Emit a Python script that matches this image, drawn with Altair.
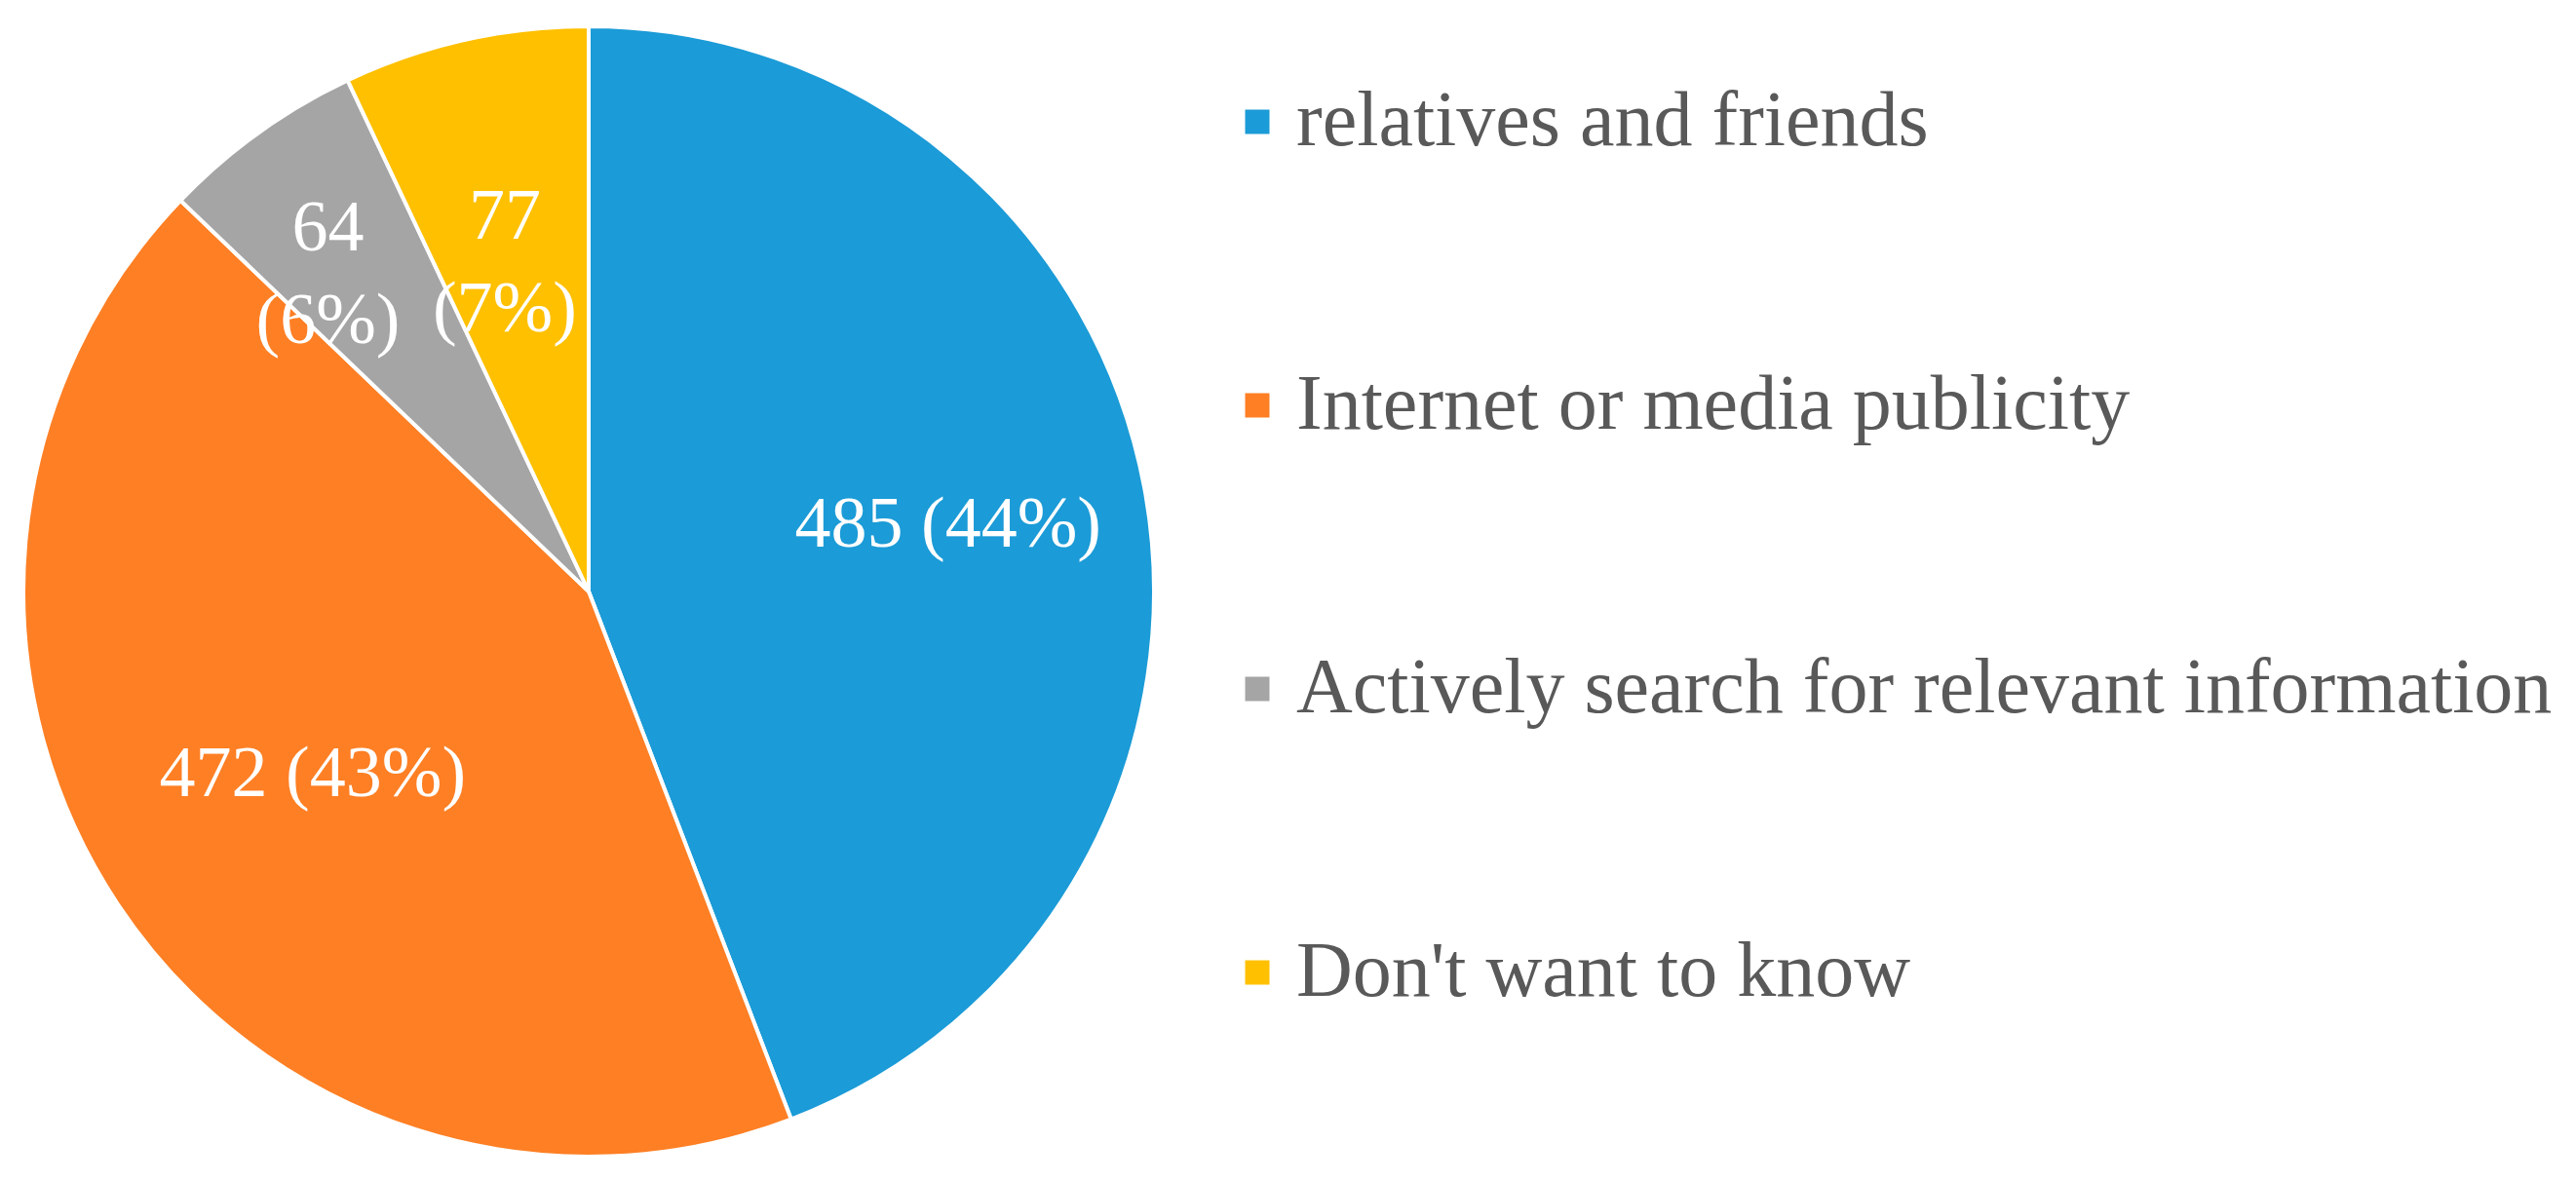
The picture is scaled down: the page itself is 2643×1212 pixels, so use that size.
import altair as alt
import pandas as pd

categories = ["relatives and friends", "Internet or media publicity",
              "Actively search for relevant information", "Don't want to know"]
counts = [485, 472, 64, 77]
colors = ["#1B9BD7", "#FE7F24", "#A5A5A5", "#FFC000"]

total = sum(counts)
labels = []
for c in counts:
    p = round(100 * c / total)
    labels.append(f"{c} ({p}%)" if c > 200 else f"{c}\n({p}%)")

df = pd.DataFrame({"category": categories, "count": counts,
                   "idx": list(range(len(categories))), "label": labels})

CX, CY, R = 596, 599, 580
FONT = "Liberation Serif"
TWO_PI = 6.283185307179586

color = alt.Color("category:N", sort=categories,
                  scale=alt.Scale(domain=categories, range=colors),
                  legend=alt.Legend(orient="none", legendX=1242, legendY=77,
                                    title=None, symbolType="square", symbolSize=625,
                                    symbolStrokeWidth=0, labelFont=FONT, labelFontSize=80,
                                    labelColor="#595959", labelOffset=0, rowPadding=211,
                                    labelLimit=2000, direction="vertical"))

pie = alt.Chart(df).mark_arc(outerRadius=R, stroke="white", strokeWidth=4).encode(
    theta=alt.Theta("count:Q", stack="normalize",
                    scale=alt.Scale(domain=[0, 1], range=[0, TWO_PI])),
    order=alt.Order("idx:Q", sort="ascending"),
    color=color, x=alt.value(CX), y=alt.value(CY))

text_base = alt.Chart(df).transform_window(
    cum="sum(count)", sort=[alt.SortField("idx", order="ascending")]
).transform_joinaggregate(tot="sum(count)").transform_calculate(
    mid="(datum.cum - datum.count / 2) / datum.tot"
)

def label_layer(cat, radius):
    return text_base.transform_filter(alt.datum.category == cat).mark_text(
        font=FONT, fontSize=74, color="white", lineBreak="\n",
        lineHeight=95, align="center", baseline="middle").encode(
        theta=alt.Theta("mid:Q", stack=False,
                        scale=alt.Scale(domain=[0, 1], range=[0, TWO_PI])),
        text="label:N", x=alt.value(CX), y=alt.value(CY),
        radius=alt.value(radius))

layers = [pie,
          label_layer(categories[0], 375),
          label_layer(categories[1], 340),
          label_layer(categories[2], 458),
          label_layer(categories[3], 394)]

chart = alt.layer(*layers).properties(
    width=2627, height=1196, autosize="none", padding=0
).configure_view(stroke=None)

chart.save("out.html", embed_options={"renderer": "svg", "actions": False})
